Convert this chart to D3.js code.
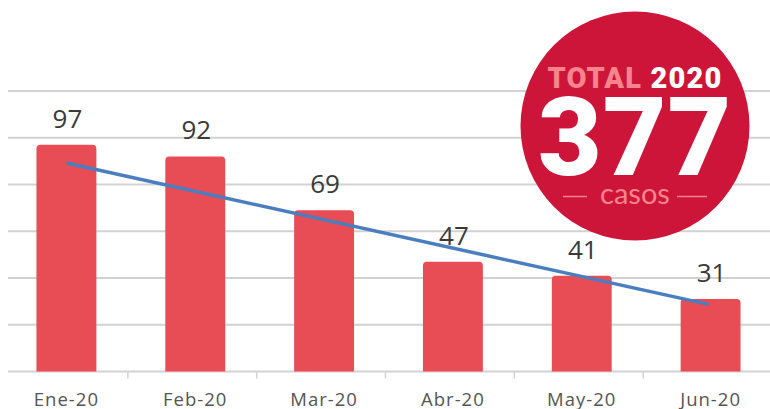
<!DOCTYPE html>
<html>
<head>
<meta charset="utf-8">
<script src="https://cdn.jsdelivr.net/npm/d3@7.9.0/dist/d3.min.js"></script>
<style>
  html, body { margin: 0; padding: 0; background: #fff; }
  svg { display: block; }
</style>
</head>
<body>
<div id="chart"></div>
<script>
const months = ["Ene-20", "Feb-20", "Mar-20", "Abr-20", "May-20", "Jun-20"];
const cases = [97, 92, 69, 47, 41, 31];
const trendEnds = [89.2, 28.7];
const yTicks = [0, 20, 40, 60, 80, 100, 120];
const badgeYear = "2020";
const badgeUnit = "casos";

const width = 770;
const height = 409;

const data = months.map((m, i) => ({ month: m, value: cases[i] }));
const total = d3.sum(cases);

const svg = d3.select("#chart")
  .append("svg")
  .attr("width", width)
  .attr("height", height);

const x = d3.scaleBand()
  .domain(months)
  .range([2, 775])
  .paddingInner(0.535)
  .paddingOuter(0.2675);

const y = d3.scaleLinear()
  .domain([0, 120])
  .range([371.5, 91]);

// gridlines
svg.append("g")
  .selectAll("line")
  .data(yTicks)
  .join("line")
  .attr("x1", 8)
  .attr("x2", width)
  .attr("y1", d => y(d))
  .attr("y2", d => y(d))
  .attr("stroke", "#d2d2d2")
  .attr("stroke-width", 2);

// small ticks between categories
svg.append("g")
  .selectAll("line")
  .data(months.slice(1))
  .join("line")
  .attr("x1", d => x(d) - (x.step() - x.bandwidth()) / 2 - 3)
  .attr("x2", d => x(d) - (x.step() - x.bandwidth()) / 2 - 3)
  .attr("y1", y(0))
  .attr("y2", y(0) + 7)
  .attr("stroke", "#d2d2d2")
  .attr("stroke-width", 1.5);

// bars with rounded top corners
function barPath(x0, y0, w, h, r) {
  return `M${x0},${y0 + h}V${y0 + r}Q${x0},${y0} ${x0 + r},${y0}` +
    `H${x0 + w - r}Q${x0 + w},${y0} ${x0 + w},${y0 + r}V${y0 + h}Z`;
}

svg.append("g")
  .selectAll("path")
  .data(data)
  .join("path")
  .attr("d", d => barPath(x(d.month), y(d.value), x.bandwidth(), y(0) - y(d.value), 4))
  .attr("fill", "#e84c55");

// value labels
svg.append("g")
  .selectAll("text")
  .data(data)
  .join("text")
  .attr("x", d => x(d.month) + x.bandwidth() / 2 + 1)
  .attr("y", d => y(d.value) - 17)
  .attr("text-anchor", "middle")
  .attr("font-family", "'Open Sans', sans-serif")
  .attr("font-size", 26)
  .attr("fill", "#3a3a3a")
  .text(d => d.value);

// category labels
svg.append("g")
  .selectAll("text")
  .data(data)
  .join("text")
  .attr("x", d => x(d.month) + x.bandwidth() / 2)
  .attr("y", 406)
  .attr("text-anchor", "middle")
  .attr("font-family", "'Open Sans', sans-serif")
  .attr("font-size", 18.5)
  .attr("letter-spacing", 1)
  .attr("fill", "#555")
  .text(d => d.month);

// trend line
const first = months[0];
const last = months[months.length - 1];
svg.append("line")
  .attr("x1", x(first) + x.bandwidth() / 2)
  .attr("y1", y(trendEnds[0]))
  .attr("x2", x(last) + x.bandwidth() / 2 - 2)
  .attr("y2", y(trendEnds[1]))
  .attr("stroke", "#4a7ebf")
  .attr("stroke-width", 3.5);

// total badge
const badge = svg.append("g").attr("transform", "translate(635,126)");
badge.append("circle")
  .attr("r", 114.5)
  .attr("fill", "#cd1539");

const head = badge.append("text")
  .attr("y", -38.5)
  .attr("text-anchor", "middle")
  .attr("font-family", "Roboto, Lato, sans-serif")
  .attr("font-weight", 900)
  .attr("font-size", 29)
  .attr("letter-spacing", 1.2);
head.append("tspan").attr("fill", "#f7838d").text("TOTAL ");
head.append("tspan").attr("fill", "#fff").text(badgeYear);

badge.append("text")
  .attr("y", 49)
  .attr("text-anchor", "middle")
  .attr("font-family", "Roboto, Lato, sans-serif")
  .attr("font-weight", 900)
  .attr("font-size", 110)
  .attr("letter-spacing", 1)
  .attr("fill", "#fff")
  .text(total);

badge.append("text")
  .attr("y", 78)
  .attr("text-anchor", "middle")
  .attr("font-family", "Lato, sans-serif")
  .attr("font-size", 29)
  .attr("fill", "#f7838d")
  .text(badgeUnit);

badge.selectAll("line.dash")
  .data([[-72, -48], [42, 72]])
  .join("line")
  .attr("class", "dash")
  .attr("x1", d => d[0])
  .attr("x2", d => d[1])
  .attr("y1", 70.5)
  .attr("y2", 70.5)
  .attr("stroke", "#f7838d")
  .attr("stroke-width", 1.5);
</script>
</body>
</html>
